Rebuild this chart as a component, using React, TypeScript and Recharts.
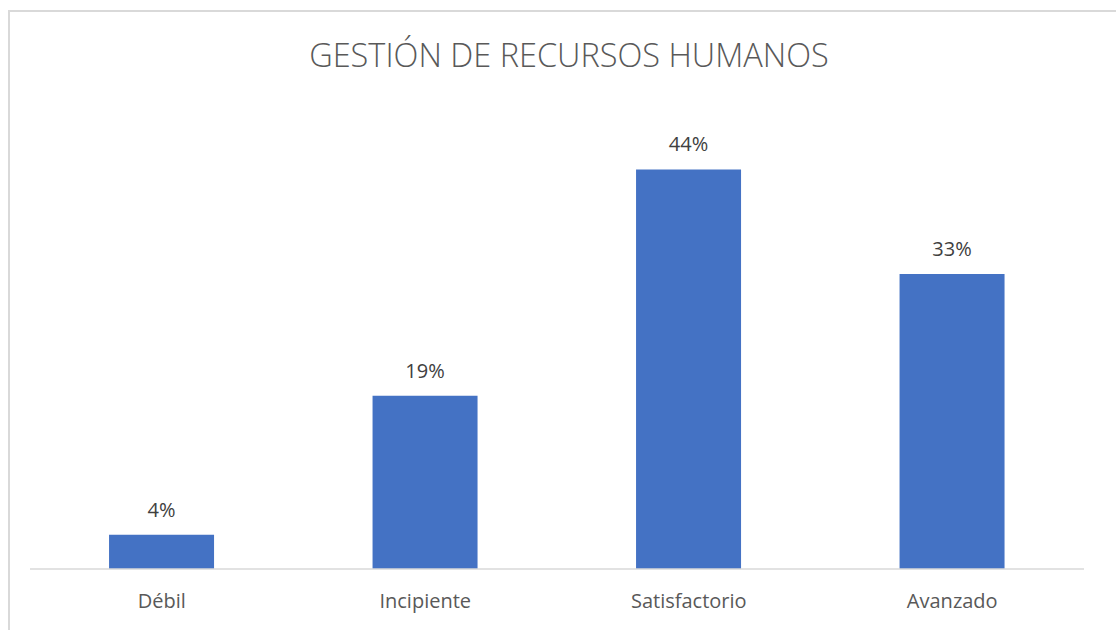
import React from 'react';
import { BarChart, Bar, XAxis, YAxis, LabelList } from 'recharts';

const categories = ['Débil', 'Incipiente', 'Satisfactorio', 'Avanzado'];
const shares = [3.8, 19.2, 44.3, 32.7];

const data = categories.map((name, i) => ({ name, value: shares[i] }));

const FONT = '"Open Sans", "Noto Sans", sans-serif';

const App: React.FC = () => {
  return (
    <div style={{ position: 'absolute', left: 0, top: 0, width: 1116, height: 630, background: '#fff', overflow: 'hidden', fontFamily: FONT }}>
      <div style={{ position: 'absolute', left: 8, top: 10, width: 1108, height: 620, borderTop: '2px solid #d9d9d9', borderLeft: '2px solid #d9d9d9' }} />
      <div style={{ position: 'absolute', left: 219, top: 33, width: 700, textAlign: 'center', fontSize: 32.5, fontWeight: 300, color: '#595959', lineHeight: '44px' }}>
        GESTIÓN DE RECURSOS HUMANOS
      </div>
      <div style={{ position: 'absolute', left: 0, top: 0 }}>
        <BarChart width={1116} height={630} data={data} margin={{ top: 118, right: 32, bottom: 0, left: 30 }} barCategoryGap="30%">
          <XAxis
            dataKey="name"
            height={61}
            axisLine={{ stroke: '#d9d9d9', strokeWidth: 1.5 }}
            tickLine={false}
            tickSize={0}
            tickMargin={25}
            tick={{ fill: '#595959', fontSize: 20, fontFamily: FONT }}
          />
          <YAxis hide domain={[0, 50]} />
          <Bar dataKey="value" fill="#4472C4" isAnimationActive={false}>
            <LabelList
              dataKey="value"
              position="top"
              offset={18}
              formatter={(v: number) => `${Math.round(v)}%`}
              style={{ fill: '#404040', fontSize: 20, fontFamily: FONT }}
            />
          </Bar>
        </BarChart>
      </div>
    </div>
  );
};

export default App;
